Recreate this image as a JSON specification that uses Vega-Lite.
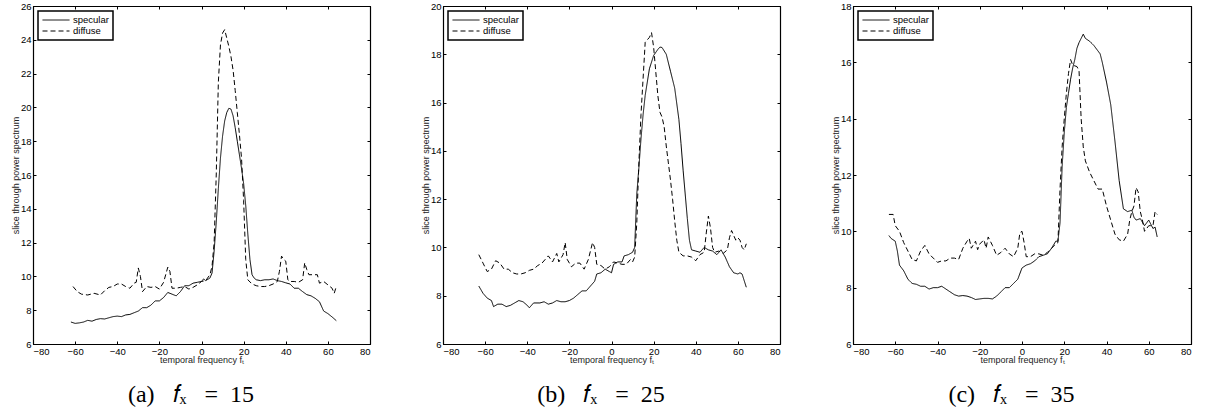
{
  "$schema": "https://vega.github.io/schema/vega-lite/v6.json",
  "background": "white",
  "padding": {"left": 10, "top": 0, "right": 5, "bottom": 0},
  "spacing": 73,
  "bounds": "flush",
  "datasets": {
    "a": [
      {"ft":-62,"v":7.3,"s":"specular"},{"ft":-60,"v":7.22,"s":"specular"},{"ft":-58,"v":7.25,"s":"specular"},{"ft":-56,"v":7.3,"s":"specular"},{"ft":-54,"v":7.4,"s":"specular"},{"ft":-52,"v":7.35,"s":"specular"},{"ft":-50,"v":7.45,"s":"specular"},{"ft":-48,"v":7.5,"s":"specular"},{"ft":-46,"v":7.48,"s":"specular"},{"ft":-44,"v":7.55,"s":"specular"},{"ft":-42,"v":7.62,"s":"specular"},{"ft":-40,"v":7.65,"s":"specular"},{"ft":-38,"v":7.62,"s":"specular"},{"ft":-36,"v":7.72,"s":"specular"},{"ft":-34,"v":7.75,"s":"specular"},{"ft":-32,"v":7.85,"s":"specular"},{"ft":-30,"v":7.95,"s":"specular"},{"ft":-28,"v":8.15,"s":"specular"},{"ft":-26,"v":8.15,"s":"specular"},{"ft":-24,"v":8.3,"s":"specular"},{"ft":-22,"v":8.55,"s":"specular"},{"ft":-20,"v":8.55,"s":"specular"},{"ft":-18,"v":8.75,"s":"specular"},{"ft":-16,"v":9.05,"s":"specular"},{"ft":-14,"v":8.95,"s":"specular"},{"ft":-12,"v":8.85,"s":"specular"},{"ft":-10,"v":9.1,"s":"specular"},{"ft":-8,"v":9.45,"s":"specular"},{"ft":-6,"v":9.45,"s":"specular"},{"ft":-4,"v":9.6,"s":"specular"},{"ft":-2,"v":9.65,"s":"specular"},{"ft":0,"v":9.7,"s":"specular"},{"ft":1,"v":9.85,"s":"specular"},{"ft":2,"v":9.75,"s":"specular"},{"ft":4,"v":9.9,"s":"specular"},{"ft":5,"v":10.2,"s":"specular"},{"ft":6,"v":11.5,"s":"specular"},{"ft":7,"v":13.2,"s":"specular"},{"ft":8,"v":15.2,"s":"specular"},{"ft":9,"v":17,"s":"specular"},{"ft":10,"v":18.3,"s":"specular"},{"ft":11,"v":19.2,"s":"specular"},{"ft":12,"v":19.7,"s":"specular"},{"ft":13,"v":19.95,"s":"specular"},{"ft":14,"v":19.9,"s":"specular"},{"ft":15,"v":19.5,"s":"specular"},{"ft":16,"v":18.8,"s":"specular"},{"ft":17,"v":18,"s":"specular"},{"ft":18,"v":17.2,"s":"specular"},{"ft":19,"v":16.4,"s":"specular"},{"ft":20,"v":15.5,"s":"specular"},{"ft":21,"v":14.2,"s":"specular"},{"ft":22,"v":12.5,"s":"specular"},{"ft":23,"v":11,"s":"specular"},{"ft":24,"v":10.1,"s":"specular"},{"ft":25,"v":9.9,"s":"specular"},{"ft":26,"v":9.8,"s":"specular"},{"ft":28,"v":9.75,"s":"specular"},{"ft":30,"v":9.8,"s":"specular"},{"ft":32,"v":9.8,"s":"specular"},{"ft":34,"v":9.85,"s":"specular"},{"ft":36,"v":9.75,"s":"specular"},{"ft":38,"v":9.7,"s":"specular"},{"ft":40,"v":9.62,"s":"specular"},{"ft":42,"v":9.55,"s":"specular"},{"ft":44,"v":9.3,"s":"specular"},{"ft":46,"v":9.3,"s":"specular"},{"ft":48,"v":9.1,"s":"specular"},{"ft":50,"v":8.92,"s":"specular"},{"ft":52,"v":8.85,"s":"specular"},{"ft":54,"v":8.7,"s":"specular"},{"ft":56,"v":8.5,"s":"specular"},{"ft":58,"v":7.95,"s":"specular"},{"ft":60,"v":7.8,"s":"specular"},{"ft":62,"v":7.6,"s":"specular"},{"ft":64,"v":7.38,"s":"specular"},
      {"ft":-61,"v":9.4,"s":"diffuse"},{"ft":-59,"v":9.1,"s":"diffuse"},{"ft":-57,"v":8.95,"s":"diffuse"},{"ft":-54,"v":8.9,"s":"diffuse"},{"ft":-51,"v":9.0,"s":"diffuse"},{"ft":-48,"v":8.9,"s":"diffuse"},{"ft":-46,"v":9.15,"s":"diffuse"},{"ft":-44,"v":9.35,"s":"diffuse"},{"ft":-42,"v":9.4,"s":"diffuse"},{"ft":-40,"v":9.55,"s":"diffuse"},{"ft":-38,"v":9.55,"s":"diffuse"},{"ft":-36,"v":9.4,"s":"diffuse"},{"ft":-34,"v":9.3,"s":"diffuse"},{"ft":-32,"v":9.6,"s":"diffuse"},{"ft":-31,"v":9.65,"s":"diffuse"},{"ft":-30,"v":10.5,"s":"diffuse"},{"ft":-29,"v":10.0,"s":"diffuse"},{"ft":-28,"v":9.1,"s":"diffuse"},{"ft":-26,"v":9.4,"s":"diffuse"},{"ft":-24,"v":9.35,"s":"diffuse"},{"ft":-22,"v":9.4,"s":"diffuse"},{"ft":-20,"v":9.25,"s":"diffuse"},{"ft":-18,"v":9.65,"s":"diffuse"},{"ft":-16,"v":10.55,"s":"diffuse"},{"ft":-15,"v":10.3,"s":"diffuse"},{"ft":-14,"v":9.3,"s":"diffuse"},{"ft":-12,"v":9.3,"s":"diffuse"},{"ft":-10,"v":9.35,"s":"diffuse"},{"ft":-8,"v":9.4,"s":"diffuse"},{"ft":-6,"v":9.25,"s":"diffuse"},{"ft":-4,"v":9.35,"s":"diffuse"},{"ft":-2,"v":9.5,"s":"diffuse"},{"ft":0,"v":9.7,"s":"diffuse"},{"ft":2,"v":9.75,"s":"diffuse"},{"ft":4,"v":10.1,"s":"diffuse"},{"ft":5,"v":10.6,"s":"diffuse"},{"ft":6,"v":12,"s":"diffuse"},{"ft":7,"v":16,"s":"diffuse"},{"ft":8,"v":21.5,"s":"diffuse"},{"ft":9,"v":23.7,"s":"diffuse"},{"ft":10,"v":24.4,"s":"diffuse"},{"ft":11,"v":24.6,"s":"diffuse"},{"ft":12,"v":24.1,"s":"diffuse"},{"ft":13,"v":23.6,"s":"diffuse"},{"ft":14,"v":23.0,"s":"diffuse"},{"ft":15,"v":22.2,"s":"diffuse"},{"ft":16,"v":21,"s":"diffuse"},{"ft":17,"v":19.7,"s":"diffuse"},{"ft":18,"v":18.4,"s":"diffuse"},{"ft":19,"v":17,"s":"diffuse"},{"ft":20,"v":14.5,"s":"diffuse"},{"ft":21,"v":11,"s":"diffuse"},{"ft":22,"v":9.8,"s":"diffuse"},{"ft":24,"v":9.55,"s":"diffuse"},{"ft":26,"v":9.45,"s":"diffuse"},{"ft":28,"v":9.4,"s":"diffuse"},{"ft":30,"v":9.4,"s":"diffuse"},{"ft":32,"v":9.45,"s":"diffuse"},{"ft":34,"v":9.55,"s":"diffuse"},{"ft":36,"v":9.7,"s":"diffuse"},{"ft":37,"v":10.3,"s":"diffuse"},{"ft":38,"v":11.2,"s":"diffuse"},{"ft":39,"v":11.0,"s":"diffuse"},{"ft":40,"v":10.9,"s":"diffuse"},{"ft":41,"v":9.8,"s":"diffuse"},{"ft":42,"v":9.7,"s":"diffuse"},{"ft":44,"v":9.7,"s":"diffuse"},{"ft":46,"v":9.65,"s":"diffuse"},{"ft":48,"v":9.8,"s":"diffuse"},{"ft":49,"v":10.8,"s":"diffuse"},{"ft":50,"v":10.4,"s":"diffuse"},{"ft":51,"v":10.1,"s":"diffuse"},{"ft":53,"v":10.1,"s":"diffuse"},{"ft":55,"v":10.1,"s":"diffuse"},{"ft":56,"v":9.6,"s":"diffuse"},{"ft":58,"v":9.7,"s":"diffuse"},{"ft":60,"v":9.5,"s":"diffuse"},{"ft":62,"v":9.3,"s":"diffuse"},{"ft":63,"v":9.0,"s":"diffuse"},{"ft":64,"v":9.4,"s":"diffuse"}
    ],
    "b": [
      {"ft":-63,"v":8.4,"s":"specular"},{"ft":-61,"v":8.1,"s":"specular"},{"ft":-59,"v":7.9,"s":"specular"},{"ft":-57,"v":7.8,"s":"specular"},{"ft":-56,"v":7.55,"s":"specular"},{"ft":-54,"v":7.65,"s":"specular"},{"ft":-52,"v":7.65,"s":"specular"},{"ft":-50,"v":7.55,"s":"specular"},{"ft":-48,"v":7.6,"s":"specular"},{"ft":-46,"v":7.7,"s":"specular"},{"ft":-44,"v":7.8,"s":"specular"},{"ft":-42,"v":7.75,"s":"specular"},{"ft":-40,"v":7.6,"s":"specular"},{"ft":-39,"v":7.5,"s":"specular"},{"ft":-37,"v":7.7,"s":"specular"},{"ft":-34,"v":7.7,"s":"specular"},{"ft":-32,"v":7.75,"s":"specular"},{"ft":-30,"v":7.65,"s":"specular"},{"ft":-28,"v":7.7,"s":"specular"},{"ft":-26,"v":7.8,"s":"specular"},{"ft":-24,"v":7.75,"s":"specular"},{"ft":-22,"v":7.75,"s":"specular"},{"ft":-20,"v":7.8,"s":"specular"},{"ft":-18,"v":7.9,"s":"specular"},{"ft":-16,"v":8.05,"s":"specular"},{"ft":-14,"v":8.2,"s":"specular"},{"ft":-12,"v":8.2,"s":"specular"},{"ft":-10,"v":8.4,"s":"specular"},{"ft":-8,"v":8.6,"s":"specular"},{"ft":-7,"v":8.9,"s":"specular"},{"ft":-5,"v":8.95,"s":"specular"},{"ft":-3,"v":9.1,"s":"specular"},{"ft":-1,"v":9.0,"s":"specular"},{"ft":0,"v":8.95,"s":"specular"},{"ft":1,"v":9.3,"s":"specular"},{"ft":3,"v":9.4,"s":"specular"},{"ft":5,"v":9.4,"s":"specular"},{"ft":6,"v":9.65,"s":"specular"},{"ft":8,"v":9.7,"s":"specular"},{"ft":10,"v":9.8,"s":"specular"},{"ft":11,"v":10.0,"s":"specular"},{"ft":12,"v":12.2,"s":"specular"},{"ft":13,"v":13.3,"s":"specular"},{"ft":14,"v":14.5,"s":"specular"},{"ft":15,"v":15.5,"s":"specular"},{"ft":16,"v":16.3,"s":"specular"},{"ft":18,"v":17.4,"s":"specular"},{"ft":20,"v":17.95,"s":"specular"},{"ft":22,"v":18.2,"s":"specular"},{"ft":23,"v":18.3,"s":"specular"},{"ft":24,"v":18.28,"s":"specular"},{"ft":26,"v":18.0,"s":"specular"},{"ft":28,"v":17.3,"s":"specular"},{"ft":30,"v":16.6,"s":"specular"},{"ft":32,"v":15.3,"s":"specular"},{"ft":33,"v":14.3,"s":"specular"},{"ft":34,"v":13.2,"s":"specular"},{"ft":36,"v":11.2,"s":"specular"},{"ft":37,"v":10.3,"s":"specular"},{"ft":38,"v":9.9,"s":"specular"},{"ft":40,"v":9.85,"s":"specular"},{"ft":42,"v":9.8,"s":"specular"},{"ft":44,"v":10.0,"s":"specular"},{"ft":46,"v":9.9,"s":"specular"},{"ft":48,"v":9.85,"s":"specular"},{"ft":50,"v":9.7,"s":"specular"},{"ft":52,"v":9.9,"s":"specular"},{"ft":54,"v":9.6,"s":"specular"},{"ft":56,"v":9.2,"s":"specular"},{"ft":58,"v":8.95,"s":"specular"},{"ft":60,"v":8.9,"s":"specular"},{"ft":61,"v":8.95,"s":"specular"},{"ft":62,"v":8.9,"s":"specular"},{"ft":64,"v":8.35,"s":"specular"},
      {"ft":-63,"v":9.7,"s":"diffuse"},{"ft":-61,"v":9.35,"s":"diffuse"},{"ft":-59,"v":9.0,"s":"diffuse"},{"ft":-57,"v":9.1,"s":"diffuse"},{"ft":-55,"v":9.45,"s":"diffuse"},{"ft":-53,"v":9.35,"s":"diffuse"},{"ft":-51,"v":9.1,"s":"diffuse"},{"ft":-49,"v":9.1,"s":"diffuse"},{"ft":-47,"v":8.95,"s":"diffuse"},{"ft":-45,"v":8.9,"s":"diffuse"},{"ft":-43,"v":8.9,"s":"diffuse"},{"ft":-41,"v":8.95,"s":"diffuse"},{"ft":-39,"v":9.05,"s":"diffuse"},{"ft":-37,"v":9.1,"s":"diffuse"},{"ft":-35,"v":9.25,"s":"diffuse"},{"ft":-33,"v":9.35,"s":"diffuse"},{"ft":-31,"v":9.55,"s":"diffuse"},{"ft":-30,"v":9.65,"s":"diffuse"},{"ft":-28,"v":9.4,"s":"diffuse"},{"ft":-26,"v":9.75,"s":"diffuse"},{"ft":-25,"v":9.4,"s":"diffuse"},{"ft":-23,"v":9.7,"s":"diffuse"},{"ft":-22,"v":10.2,"s":"diffuse"},{"ft":-21,"v":9.5,"s":"diffuse"},{"ft":-19,"v":9.2,"s":"diffuse"},{"ft":-17,"v":9.35,"s":"diffuse"},{"ft":-15,"v":9.35,"s":"diffuse"},{"ft":-13,"v":9.1,"s":"diffuse"},{"ft":-11,"v":9.5,"s":"diffuse"},{"ft":-9,"v":10.2,"s":"diffuse"},{"ft":-8,"v":10.0,"s":"diffuse"},{"ft":-7,"v":9.3,"s":"diffuse"},{"ft":-5,"v":9.25,"s":"diffuse"},{"ft":-3,"v":9.1,"s":"diffuse"},{"ft":-1,"v":9.2,"s":"diffuse"},{"ft":1,"v":9.4,"s":"diffuse"},{"ft":3,"v":9.35,"s":"diffuse"},{"ft":5,"v":9.3,"s":"diffuse"},{"ft":7,"v":9.3,"s":"diffuse"},{"ft":9,"v":9.5,"s":"diffuse"},{"ft":10,"v":9.4,"s":"diffuse"},{"ft":11,"v":9.6,"s":"diffuse"},{"ft":12,"v":11.0,"s":"diffuse"},{"ft":13,"v":13.5,"s":"diffuse"},{"ft":14,"v":15.5,"s":"diffuse"},{"ft":15,"v":17.0,"s":"diffuse"},{"ft":16,"v":18.5,"s":"diffuse"},{"ft":17,"v":18.6,"s":"diffuse"},{"ft":18,"v":18.7,"s":"diffuse"},{"ft":19,"v":18.9,"s":"diffuse"},{"ft":20,"v":18.3,"s":"diffuse"},{"ft":21,"v":17.3,"s":"diffuse"},{"ft":22,"v":16.3,"s":"diffuse"},{"ft":23,"v":15.6,"s":"diffuse"},{"ft":24,"v":15.4,"s":"diffuse"},{"ft":25,"v":15.0,"s":"diffuse"},{"ft":26,"v":14.2,"s":"diffuse"},{"ft":27,"v":13.5,"s":"diffuse"},{"ft":28,"v":12.8,"s":"diffuse"},{"ft":29,"v":12.0,"s":"diffuse"},{"ft":30,"v":11.1,"s":"diffuse"},{"ft":31,"v":10.3,"s":"diffuse"},{"ft":32,"v":9.8,"s":"diffuse"},{"ft":34,"v":9.65,"s":"diffuse"},{"ft":36,"v":9.65,"s":"diffuse"},{"ft":38,"v":9.6,"s":"diffuse"},{"ft":40,"v":9.45,"s":"diffuse"},{"ft":42,"v":9.7,"s":"diffuse"},{"ft":44,"v":9.8,"s":"diffuse"},{"ft":45,"v":10.6,"s":"diffuse"},{"ft":46,"v":11.3,"s":"diffuse"},{"ft":47,"v":10.8,"s":"diffuse"},{"ft":48,"v":10.0,"s":"diffuse"},{"ft":49,"v":9.8,"s":"diffuse"},{"ft":51,"v":9.85,"s":"diffuse"},{"ft":53,"v":9.75,"s":"diffuse"},{"ft":55,"v":9.9,"s":"diffuse"},{"ft":56,"v":10.4,"s":"diffuse"},{"ft":57,"v":10.7,"s":"diffuse"},{"ft":59,"v":10.3,"s":"diffuse"},{"ft":60,"v":10.4,"s":"diffuse"},{"ft":61,"v":10.3,"s":"diffuse"},{"ft":62,"v":10.0,"s":"diffuse"},{"ft":63,"v":9.9,"s":"diffuse"},{"ft":64,"v":10.15,"s":"diffuse"}
    ],
    "c": [
      {"ft":-63,"v":9.85,"s":"specular"},{"ft":-62,"v":9.75,"s":"specular"},{"ft":-60,"v":9.65,"s":"specular"},{"ft":-59,"v":9.3,"s":"specular"},{"ft":-58,"v":8.8,"s":"specular"},{"ft":-56,"v":8.6,"s":"specular"},{"ft":-54,"v":8.3,"s":"specular"},{"ft":-52,"v":8.15,"s":"specular"},{"ft":-50,"v":8.12,"s":"specular"},{"ft":-48,"v":8.05,"s":"specular"},{"ft":-46,"v":8.05,"s":"specular"},{"ft":-44,"v":7.95,"s":"specular"},{"ft":-42,"v":8.0,"s":"specular"},{"ft":-40,"v":8.0,"s":"specular"},{"ft":-38,"v":8.05,"s":"specular"},{"ft":-36,"v":7.95,"s":"specular"},{"ft":-34,"v":7.85,"s":"specular"},{"ft":-32,"v":7.75,"s":"specular"},{"ft":-30,"v":7.7,"s":"specular"},{"ft":-28,"v":7.72,"s":"specular"},{"ft":-26,"v":7.7,"s":"specular"},{"ft":-24,"v":7.65,"s":"specular"},{"ft":-22,"v":7.58,"s":"specular"},{"ft":-20,"v":7.6,"s":"specular"},{"ft":-18,"v":7.62,"s":"specular"},{"ft":-16,"v":7.62,"s":"specular"},{"ft":-14,"v":7.6,"s":"specular"},{"ft":-12,"v":7.7,"s":"specular"},{"ft":-10,"v":7.85,"s":"specular"},{"ft":-8,"v":8.0,"s":"specular"},{"ft":-6,"v":8.0,"s":"specular"},{"ft":-4,"v":8.15,"s":"specular"},{"ft":-2,"v":8.3,"s":"specular"},{"ft":0,"v":8.7,"s":"specular"},{"ft":2,"v":8.8,"s":"specular"},{"ft":4,"v":8.85,"s":"specular"},{"ft":6,"v":8.95,"s":"specular"},{"ft":8,"v":9.1,"s":"specular"},{"ft":10,"v":9.15,"s":"specular"},{"ft":12,"v":9.2,"s":"specular"},{"ft":14,"v":9.4,"s":"specular"},{"ft":16,"v":9.65,"s":"specular"},{"ft":17,"v":9.65,"s":"specular"},{"ft":18,"v":10.3,"s":"specular"},{"ft":19,"v":12.3,"s":"specular"},{"ft":20,"v":13.5,"s":"specular"},{"ft":21,"v":14.4,"s":"specular"},{"ft":22,"v":14.9,"s":"specular"},{"ft":23,"v":15.4,"s":"specular"},{"ft":24,"v":15.8,"s":"specular"},{"ft":25,"v":16.1,"s":"specular"},{"ft":26,"v":16.5,"s":"specular"},{"ft":27,"v":16.7,"s":"specular"},{"ft":28,"v":16.85,"s":"specular"},{"ft":29,"v":17.0,"s":"specular"},{"ft":30,"v":16.85,"s":"specular"},{"ft":32,"v":16.75,"s":"specular"},{"ft":34,"v":16.6,"s":"specular"},{"ft":36,"v":16.4,"s":"specular"},{"ft":37,"v":16.3,"s":"specular"},{"ft":38,"v":16.0,"s":"specular"},{"ft":40,"v":15.3,"s":"specular"},{"ft":42,"v":14.5,"s":"specular"},{"ft":44,"v":13.2,"s":"specular"},{"ft":46,"v":11.8,"s":"specular"},{"ft":48,"v":10.8,"s":"specular"},{"ft":50,"v":10.7,"s":"specular"},{"ft":52,"v":10.75,"s":"specular"},{"ft":53,"v":10.5,"s":"specular"},{"ft":54,"v":10.4,"s":"specular"},{"ft":56,"v":10.45,"s":"specular"},{"ft":58,"v":10.2,"s":"specular"},{"ft":60,"v":10.4,"s":"specular"},{"ft":62,"v":10.1,"s":"specular"},{"ft":63,"v":10.15,"s":"specular"},{"ft":64,"v":9.8,"s":"specular"},
      {"ft":-63,"v":10.6,"s":"diffuse"},{"ft":-61,"v":10.6,"s":"diffuse"},{"ft":-60,"v":10.2,"s":"diffuse"},{"ft":-58,"v":10.0,"s":"diffuse"},{"ft":-56,"v":9.6,"s":"diffuse"},{"ft":-54,"v":9.3,"s":"diffuse"},{"ft":-52,"v":9.0,"s":"diffuse"},{"ft":-50,"v":8.95,"s":"diffuse"},{"ft":-48,"v":9.3,"s":"diffuse"},{"ft":-46,"v":9.5,"s":"diffuse"},{"ft":-44,"v":9.2,"s":"diffuse"},{"ft":-42,"v":9.05,"s":"diffuse"},{"ft":-40,"v":8.9,"s":"diffuse"},{"ft":-38,"v":8.95,"s":"diffuse"},{"ft":-36,"v":8.95,"s":"diffuse"},{"ft":-34,"v":9.05,"s":"diffuse"},{"ft":-32,"v":9.05,"s":"diffuse"},{"ft":-30,"v":9.0,"s":"diffuse"},{"ft":-28,"v":9.4,"s":"diffuse"},{"ft":-26,"v":9.65,"s":"diffuse"},{"ft":-25,"v":9.75,"s":"diffuse"},{"ft":-24,"v":9.4,"s":"diffuse"},{"ft":-22,"v":9.65,"s":"diffuse"},{"ft":-21,"v":9.35,"s":"diffuse"},{"ft":-20,"v":9.55,"s":"diffuse"},{"ft":-18,"v":9.7,"s":"diffuse"},{"ft":-17,"v":9.4,"s":"diffuse"},{"ft":-16,"v":9.8,"s":"diffuse"},{"ft":-14,"v":9.5,"s":"diffuse"},{"ft":-12,"v":9.15,"s":"diffuse"},{"ft":-10,"v":9.25,"s":"diffuse"},{"ft":-8,"v":9.4,"s":"diffuse"},{"ft":-6,"v":9.2,"s":"diffuse"},{"ft":-4,"v":9.1,"s":"diffuse"},{"ft":-2,"v":9.4,"s":"diffuse"},{"ft":-1,"v":9.95,"s":"diffuse"},{"ft":0,"v":10.0,"s":"diffuse"},{"ft":1,"v":9.6,"s":"diffuse"},{"ft":2,"v":9.1,"s":"diffuse"},{"ft":4,"v":9.1,"s":"diffuse"},{"ft":6,"v":9.2,"s":"diffuse"},{"ft":8,"v":9.2,"s":"diffuse"},{"ft":10,"v":9.15,"s":"diffuse"},{"ft":12,"v":9.25,"s":"diffuse"},{"ft":14,"v":9.4,"s":"diffuse"},{"ft":16,"v":9.55,"s":"diffuse"},{"ft":17,"v":9.6,"s":"diffuse"},{"ft":18,"v":11.5,"s":"diffuse"},{"ft":19,"v":13.0,"s":"diffuse"},{"ft":20,"v":14.0,"s":"diffuse"},{"ft":21,"v":14.9,"s":"diffuse"},{"ft":22,"v":15.6,"s":"diffuse"},{"ft":23,"v":16.1,"s":"diffuse"},{"ft":24,"v":15.9,"s":"diffuse"},{"ft":26,"v":15.85,"s":"diffuse"},{"ft":27,"v":15.7,"s":"diffuse"},{"ft":28,"v":14.0,"s":"diffuse"},{"ft":29,"v":13.0,"s":"diffuse"},{"ft":30,"v":12.5,"s":"diffuse"},{"ft":32,"v":12.1,"s":"diffuse"},{"ft":34,"v":11.8,"s":"diffuse"},{"ft":36,"v":11.5,"s":"diffuse"},{"ft":38,"v":11.5,"s":"diffuse"},{"ft":40,"v":10.9,"s":"diffuse"},{"ft":42,"v":10.4,"s":"diffuse"},{"ft":44,"v":9.9,"s":"diffuse"},{"ft":46,"v":9.7,"s":"diffuse"},{"ft":48,"v":9.65,"s":"diffuse"},{"ft":50,"v":9.9,"s":"diffuse"},{"ft":51,"v":10.4,"s":"diffuse"},{"ft":52,"v":10.7,"s":"diffuse"},{"ft":53,"v":10.9,"s":"diffuse"},{"ft":54,"v":11.55,"s":"diffuse"},{"ft":55,"v":11.4,"s":"diffuse"},{"ft":56,"v":10.7,"s":"diffuse"},{"ft":57,"v":10.4,"s":"diffuse"},{"ft":58,"v":10.0,"s":"diffuse"},{"ft":60,"v":10.2,"s":"diffuse"},{"ft":62,"v":10.2,"s":"diffuse"},{"ft":63,"v":10.7,"s":"diffuse"},{"ft":64,"v":10.6,"s":"diffuse"}
    ]
  },
  "hconcat": [
    {
      "width": 337, "height": 338,
      "title": {"text": "(a)\u2002\u2005𝑓ₓ\u2002\u2005=\u200215", "orient": "bottom"},
      "data": {"name": "a"},
      "layer": [
        {
          "mark": {"type": "line", "color": "black", "strokeWidth": 1},
          "encoding": {
            "x": {"field": "ft", "type": "quantitative", "scale": {"domain": [-80, 80], "nice": false}, "axis": {"values": [-80,-60,-40,-20,0,20,40,60,80], "title": "temporal frequency  fₜ"}},
            "y": {"field": "v", "type": "quantitative", "scale": {"domain": [6, 26], "nice": false, "zero": false}, "axis": {"values": [6,8,10,12,14,16,18,20,22,24,26], "title": "slice through power spectrum"}},
            "strokeDash": {"field": "s", "type": "nominal", "scale": {"domain": ["specular", "diffuse"], "range": [[1, 0], [5, 3]]}, "legend": {"title": null}}
          }
        },
        {
          "mark": {"type": "line", "opacity": 0},
          "encoding": {
            "x": {"field": "ft", "type": "quantitative", "axis": {"orient": "top", "values": [-80,-60,-40,-20,0,20,40,60,80], "labels": false, "title": null}},
            "y": {"field": "v", "type": "quantitative", "axis": {"orient": "right", "values": [6,8,10,12,14,16,18,20,22,24,26], "labels": false, "title": null}},
            "detail": {"field": "s"}
          }
        }
      ],
      "resolve": {"axis": {"x": "independent", "y": "independent"}}
    },
    {
      "width": 337, "height": 338,
      "title": {"text": "(b)\u2002\u2005𝑓ₓ\u2002\u2005=\u200225", "orient": "bottom"},
      "data": {"name": "b"},
      "layer": [
        {
          "mark": {"type": "line", "color": "black", "strokeWidth": 1},
          "encoding": {
            "x": {"field": "ft", "type": "quantitative", "scale": {"domain": [-80, 80], "nice": false}, "axis": {"values": [-80,-60,-40,-20,0,20,40,60,80], "title": "temporal frequency  fₜ"}},
            "y": {"field": "v", "type": "quantitative", "scale": {"domain": [6, 20], "nice": false, "zero": false}, "axis": {"values": [6,8,10,12,14,16,18,20], "title": "slice through power spectrum"}},
            "strokeDash": {"field": "s", "type": "nominal", "scale": {"domain": ["specular", "diffuse"], "range": [[1, 0], [5, 3]]}, "legend": {"title": null}}
          }
        },
        {
          "mark": {"type": "line", "opacity": 0},
          "encoding": {
            "x": {"field": "ft", "type": "quantitative", "axis": {"orient": "top", "values": [-80,-60,-40,-20,0,20,40,60,80], "labels": false, "title": null}},
            "y": {"field": "v", "type": "quantitative", "axis": {"orient": "right", "values": [6,8,10,12,14,16,18,20], "labels": false, "title": null}},
            "detail": {"field": "s"}
          }
        }
      ],
      "resolve": {"axis": {"x": "independent", "y": "independent"}}
    },
    {
      "width": 338, "height": 338,
      "title": {"text": "(c)\u2002\u2005𝑓ₓ\u2002\u2005=\u200235", "orient": "bottom"},
      "data": {"name": "c"},
      "layer": [
        {
          "mark": {"type": "line", "color": "black", "strokeWidth": 1},
          "encoding": {
            "x": {"field": "ft", "type": "quantitative", "scale": {"domain": [-80, 80], "nice": false}, "axis": {"values": [-80,-60,-40,-20,0,20,40,60,80], "title": "temporal frequency  fₜ"}},
            "y": {"field": "v", "type": "quantitative", "scale": {"domain": [6, 18], "nice": false, "zero": false}, "axis": {"values": [6,8,10,12,14,16,18], "title": "slice through power spectrum"}},
            "strokeDash": {"field": "s", "type": "nominal", "scale": {"domain": ["specular", "diffuse"], "range": [[1, 0], [5, 3]]}, "legend": {"title": null}}
          }
        },
        {
          "mark": {"type": "line", "opacity": 0},
          "encoding": {
            "x": {"field": "ft", "type": "quantitative", "axis": {"orient": "top", "values": [-80,-60,-40,-20,0,20,40,60,80], "labels": false, "title": null}},
            "y": {"field": "v", "type": "quantitative", "axis": {"orient": "right", "values": [6,8,10,12,14,16,18], "labels": false, "title": null}},
            "detail": {"field": "s"}
          }
        }
      ],
      "resolve": {"axis": {"x": "independent", "y": "independent"}}
    }
  ],
  "resolve": {"scale": {"strokeDash": "independent"}, "legend": {"strokeDash": "independent"}},
  "config": {
    "font": "Liberation Sans",
    "view": {"stroke": "black", "strokeWidth": 1},
    "axis": {"domain": true, "domainColor": "black", "domainWidth": 1.2, "tickColor": "black", "tickSize": -3, "labelColor": "black", "labelFont": "Liberation Sans", "labelFontSize": 9.5, "labelPadding": 5, "titleFont": "Liberation Sans", "titleFontSize": 9, "titleFontWeight": "normal", "titleColor": "#222", "titlePadding": 0, "grid": false},
    "legend": {"orient": "top-left", "offset": 5, "strokeColor": "black", "strokeWidth": 1.5, "fillColor": "white", "padding": 4, "labelFont": "Liberation Sans", "labelFontSize": 9.5, "labelColor": "black", "symbolType": "stroke", "symbolSize": 729, "clipHeight": 10, "symbolStrokeWidth": 1, "symbolStrokeColor": "black", "rowPadding": 1, "labelOffset": 3},
    "title": {"font": "Liberation Serif", "fontSize": 24, "fontWeight": "normal", "color": "black", "offset": 18, "anchor": "middle", "frame": "bounds"}
  }
}
